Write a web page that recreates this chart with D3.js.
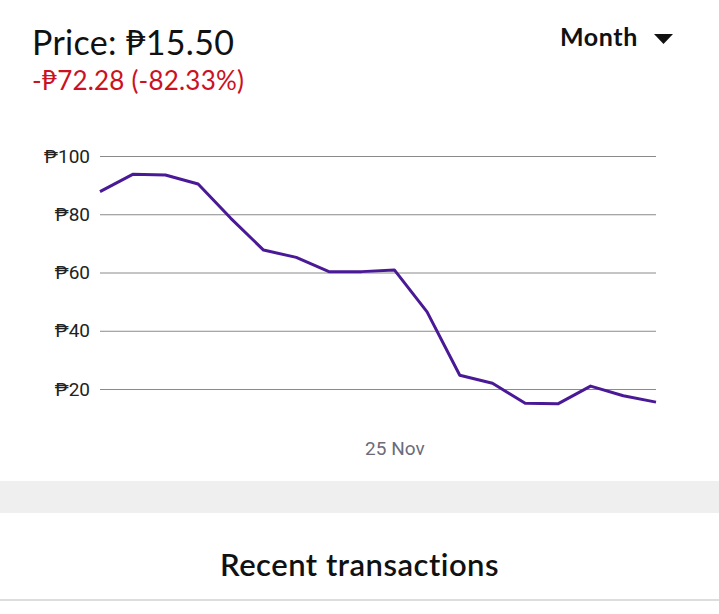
<!DOCTYPE html>
<html lang="en">
<head>
  <meta charset="UTF-8">
  <title>Price chart</title>
  <script src="https://d3js.org/d3.v7.min.js"></script>
  <style>
    body { margin: 0; background: #fff; }
    svg { display: block; }
  </style>
</head>
<body>
  <script>
    // data
    const dates = ["2021-11-16", "2021-11-17", "2021-11-18", "2021-11-19", "2021-11-20", "2021-11-21",
                   "2021-11-22", "2021-11-23", "2021-11-24", "2021-11-25", "2021-11-26", "2021-11-27",
                   "2021-11-28", "2021-11-29", "2021-11-30", "2021-12-01", "2021-12-02", "2021-12-03"];
    const prices = [87.78, 93.7, 93.5, 90.4, 78.6, 67.7, 65.2, 60.3, 60.3, 60.9,
                    46.5, 24.7, 22.0, 15.1, 14.9, 21.0, 17.7, 15.50];
    const yTicks = [20, 40, 60, 80, 100];
    const xTicks = ["2021-11-25"];

    const width = 719, height = 614;
    const parse = d3.timeParse("%Y-%m-%d");
    const headFont = "Lato, 'Noto Sans', sans-serif";

    const svg = d3.select("body").append("svg")
      .attr("width", width)
      .attr("height", height);

    // header
    svg.append("text")
      .attr("x", 32).attr("y", 55)
      .attr("font-family", headFont)
      .attr("font-size", 34)
      .attr("letter-spacing", 0.3)
      .attr("fill", "#111")
      .text("Price: ₱15.50");

    svg.append("text")
      .attr("x", 32).attr("y", 90)
      .attr("font-family", headFont)
      .attr("font-size", 26)
      .attr("letter-spacing", 0.2)
      .attr("fill", "#cc1122")
      .text("-₱72.28 (-82.33%)");

    svg.append("text")
      .attr("x", 560).attr("y", 46)
      .attr("font-family", headFont)
      .attr("font-weight", "bold")
      .attr("font-size", 25)
      .attr("letter-spacing", 0.6)
      .attr("fill", "#111")
      .text("Month");

    svg.append("path")
      .attr("d", "M654,34 L673,34 L663.5,44 Z")
      .attr("fill", "#111");

    // chart
    const x = d3.scaleTime()
      .domain(d3.extent(dates, parse))
      .range([100, 656]);

    const y = d3.scaleLinear()
      .domain([20, 100])
      .range([389, 156]);

    const yAxis = svg.append("g")
      .attr("transform", "translate(100,0)")
      .call(d3.axisLeft(y).tickValues(yTicks).tickSize(-556).tickFormat(d => "₱" + d));
    yAxis.select(".domain").remove();
    yAxis.selectAll(".tick line").attr("stroke", "#8a8a8a").attr("stroke-width", 1);
    yAxis.selectAll(".tick text")
      .attr("x", -10)
      .attr("font-family", "Roboto, sans-serif")
      .attr("font-size", 19)
      .attr("fill", "#222");

    const xAxis = svg.append("g")
      .attr("transform", "translate(0,434)")
      .call(d3.axisBottom(x).tickValues(xTicks.map(parse)).tickSize(0).tickFormat(d3.timeFormat("%-d %b")));
    xAxis.select(".domain").remove();
    xAxis.selectAll(".tick text")
      .attr("y", 8)
      .attr("font-family", "Roboto, sans-serif")
      .attr("font-size", 19)
      .attr("fill", "#6b6b7a");

    const line = d3.line()
      .x((d, i) => x(parse(dates[i])))
      .y(d => y(d));

    svg.append("path")
      .datum(prices)
      .attr("d", line)
      .attr("fill", "none")
      .attr("stroke", "#4a1a96")
      .attr("stroke-width", 3)
      .attr("stroke-linejoin", "round");

    // footer
    svg.append("rect")
      .attr("x", 0).attr("y", 481)
      .attr("width", width).attr("height", 32)
      .attr("fill", "#efefef");

    svg.append("text")
      .attr("x", width / 2).attr("y", 576)
      .attr("text-anchor", "middle")
      .attr("font-family", headFont)
      .attr("font-weight", 600)
      .attr("font-size", 31)
      .attr("letter-spacing", 0.5)
      .attr("fill", "#111")
      .text("Recent transactions");

    svg.append("rect")
      .attr("x", 0).attr("y", 599)
      .attr("width", width).attr("height", 2)
      .attr("fill", "#dddddd");
  </script>
</body>
</html>
